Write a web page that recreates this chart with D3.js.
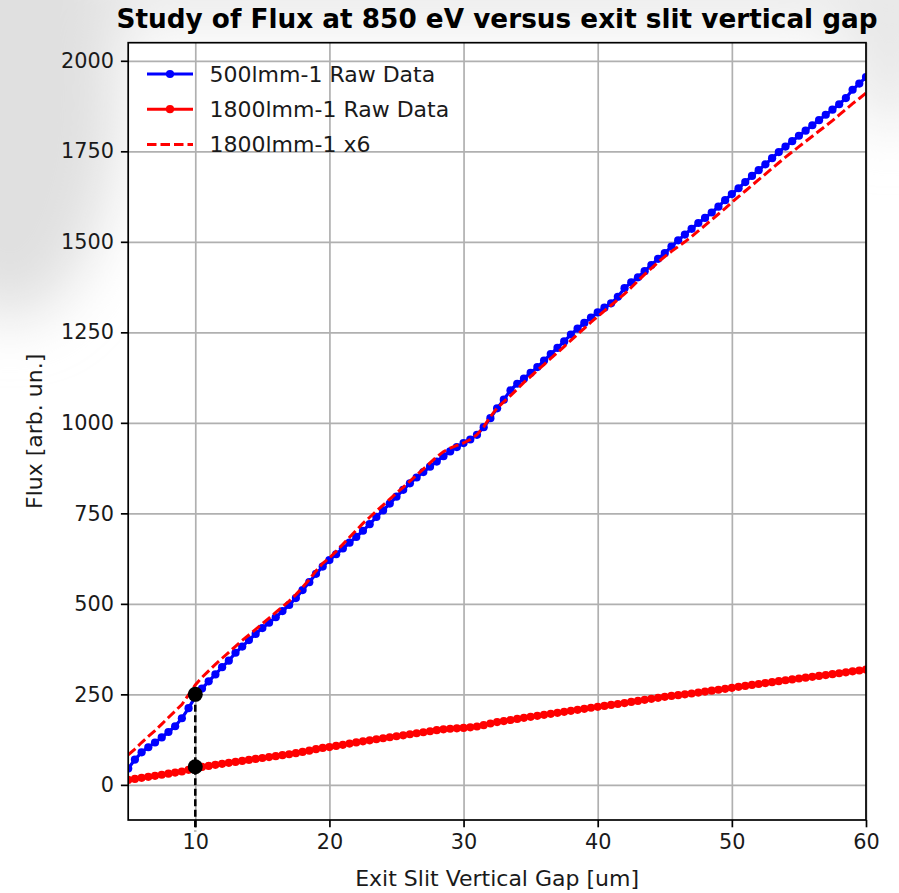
<!DOCTYPE html>
<html>
<head>
<meta charset="utf-8">
<script src="https://cdn.jsdelivr.net/npm/d3@7"></script>
<style>
  body { margin: 0; background: #ffffff; }
  svg text { font-family: "DejaVu Sans", sans-serif; fill: #1a1a1a; }
</style>
</head>
<body>
<div id="CHART"></div>
<script>
// exit slit vertical gap [um], 0.5 um steps
const gap = d3.range(5, 60.001, 0.5);

// 500lmm-1 raw flux
const flux500 = [
  45, 70, 90, 104, 117, 131, 146, 162, 184, 212,
  243, 266, 286, 305, 325, 343, 365, 382, 400, 417,
  433, 448, 463, 480, 497, 516, 538, 560, 583, 603,
  621, 637, 653, 669, 685, 702, 720, 740, 758, 777,
  796, 815, 833, 849, 864, 879, 893, 908, 921, 933,
  944, 954, 967, 988, 1013, 1040, 1064, 1090, 1108, 1122,
  1138, 1154, 1172, 1190, 1207, 1225, 1244, 1260, 1276, 1291,
  1305, 1318, 1330, 1348, 1372, 1388, 1402, 1419, 1436, 1453,
  1469, 1487, 1504, 1520, 1536, 1552, 1566, 1581, 1597, 1615,
  1632, 1648, 1665, 1682, 1698, 1714, 1731, 1748, 1763, 1778,
  1793, 1807, 1822, 1836, 1851, 1865, 1880, 1897, 1920, 1937,
  1955
];

// 1800lmm-1 raw flux
const flux1800 = [
  13.8, 16.5, 19.5, 22.3, 25.0, 28.0, 31.0, 34.0, 37.0, 41.5,
  46.0, 49.5, 52.5, 55.5, 58.3, 61.0, 63.8, 66.5, 69.0, 71.6,
  74.2, 76.8, 79.4, 82.0, 84.6, 87.6, 91.0, 94.5, 98.5, 102.0,
  104.5, 107.5, 110.7, 114.0, 117.2, 120.4, 123.2, 126.0, 128.8, 131.5,
  134.3, 137.0, 139.8, 142.6, 145.4, 148.2, 151.0, 153.4, 155.0, 156.3,
  157.4, 159.0, 161.2, 164.8, 169.5, 173.5, 176.3, 179.2, 182.2, 185.3,
  188.0, 190.8, 193.5, 196.3, 199.0, 201.8, 204.6, 207.4, 210.2, 213.0,
  215.6, 218.2, 220.8, 223.4, 226.0, 229.0, 232.0, 235.0, 237.8, 240.6,
  243.2, 245.6, 247.8, 250.0, 252.4, 255.0, 257.6, 260.2, 262.8, 265.4,
  268.2, 270.8, 273.4, 276.0, 278.6, 281.2, 283.8, 286.4, 289.0, 291.4,
  293.8, 296.2, 298.6, 301.0, 303.4, 305.8, 308.4, 311.0, 313.6, 316.0,
  318.5
];
const scaleFactor = 6;

// marked points at 10 um and the guide line under them
const markX = [10, 10];
const markY = [250, 50];
const guideY = [250, -128];

const xTicks = [10, 20, 30, 40, 50, 60];
const yTicks = [0, 250, 500, 750, 1000, 1250, 1500, 1750, 2000];
const legendNames = ["500lmm-1 Raw Data", "1800lmm-1 Raw Data", "1800lmm-1 x6"];

const W = 899, H = 893;
const plot = {x0: 128.2, x1: 866, y0: 42.7, y1: 820};
const labelFz = "22px";

const svg = d3.select("#CHART").append("svg")
  .attr("width", W).attr("height", H);

const defs = svg.append("defs");
const blur = defs.append("filter").attr("id", "soft")
  .attr("x", "-50%").attr("y", "-50%").attr("width", "200%").attr("height", "200%");
blur.append("feGaussianBlur").attr("stdDeviation", 30);
defs.append("clipPath").attr("id", "plotclip").append("rect")
  .attr("x", plot.x0).attr("y", plot.y0)
  .attr("width", plot.x1 - plot.x0).attr("height", plot.y1 - plot.y0);

// faded background of the screenshot
svg.append("rect").attr("width", W).attr("height", H).attr("fill", "#ffffff");
let bg = svg.append("g").attr("filter", "url(#soft)");
bg.append("rect").attr("x", -60).attr("y", -60).attr("width", 1020).attr("height", 90).attr("fill", "#ececec");
bg.append("ellipse").attr("cx", 10).attr("cy", 90).attr("rx", 110).attr("ry", 230).attr("fill", "#e0e0e0");
bg.append("ellipse").attr("cx", 890).attr("cy", 40).attr("rx", 40).attr("ry", 90).attr("fill", "#e6e6e6");
svg.append("rect")
  .attr("x", plot.x0).attr("y", plot.y0)
  .attr("width", plot.x1 - plot.x0).attr("height", plot.y1 - plot.y0)
  .attr("fill", "#ffffff");

const x = d3.scaleLinear().domain([5, 60]).range([plot.x0, plot.x1]);
const y = d3.scaleLinear().domain([-97, 2050]).range([plot.y1, plot.y0]);

// grid
svg.append("g")
  .attr("transform", `translate(0,${plot.y1})`)
  .call(d3.axisBottom(x).tickValues(xTicks).tickSize(-(plot.y1 - plot.y0)).tickFormat(""))
  .call(g => g.select(".domain").remove())
  .selectAll("line").attr("stroke", "#b0b0b0").attr("stroke-width", 1.7);
svg.append("g")
  .attr("transform", `translate(${plot.x0},0)`)
  .call(d3.axisLeft(y).tickValues(yTicks).tickSize(-(plot.x1 - plot.x0)).tickFormat(""))
  .call(g => g.select(".domain").remove())
  .selectAll("line").attr("stroke", "#b0b0b0").attr("stroke-width", 1.7);

// series
const pts500 = gap.map((g, i) => [g, flux500[i]]);
const pts1800 = gap.map((g, i) => [g, flux1800[i]]);
const ptsScaled = gap.map((g, i) => [g, flux1800[i] * scaleFactor]);
const line = d3.line().x(d => x(d[0])).y(d => y(d[1]));

const data_g = svg.append("g").attr("clip-path", "url(#plotclip)");

function drawDotted(pts, color) {
  data_g.append("path").datum(pts)
    .attr("d", line).attr("fill", "none")
    .attr("stroke", color).attr("stroke-width", 3.2).attr("stroke-linejoin", "round");
  data_g.append("g").selectAll("circle").data(pts).join("circle")
    .attr("cx", d => x(d[0])).attr("cy", d => y(d[1]))
    .attr("r", 4.1).attr("fill", color);
}
drawDotted(pts500, "#0000ff");
drawDotted(pts1800, "#ff0000");

data_g.append("path").datum(ptsScaled)
  .attr("d", line).attr("fill", "none")
  .attr("stroke", "#ff0000").attr("stroke-width", 3)
  .attr("stroke-dasharray", "9.5,4");

// guide line + marks
svg.append("line")
  .attr("x1", x(markX[0])).attr("x2", x(markX[0]))
  .attr("y1", y(guideY[0])).attr("y2", y(guideY[1]))
  .attr("stroke", "#000").attr("stroke-width", 2.5).attr("stroke-dasharray", "7,3.5");
svg.append("g").attr("clip-path", "url(#plotclip)")
  .selectAll("circle").data(markX).join("circle")
  .attr("cx", d => x(d)).attr("cy", (d, i) => y(markY[i]))
  .attr("r", 7.5).attr("fill", "#000");

// axes
let xa = svg.append("g")
  .attr("transform", `translate(0,${plot.y1})`)
  .call(d3.axisBottom(x).tickValues(xTicks).tickSize(7.3).tickPadding(7).tickFormat(d3.format("d")));
let ya = svg.append("g")
  .attr("transform", `translate(${plot.x0},0)`)
  .call(d3.axisLeft(y).tickValues(yTicks).tickSize(7.3).tickPadding(7).tickFormat(d3.format("d")));
[xa, ya].forEach(a => {
  a.select(".domain").remove();
  a.selectAll("line").attr("stroke", "#000").attr("stroke-width", 1.7);
  a.selectAll("text").style("font-family", "DejaVu Sans").style("font-size", "20.8px").attr("fill", "#1a1a1a");
});

// frame
svg.append("rect")
  .attr("x", plot.x0).attr("y", plot.y0)
  .attr("width", plot.x1 - plot.x0).attr("height", plot.y1 - plot.y0)
  .attr("fill", "none").attr("stroke", "#000").attr("stroke-width", 1.7);

// titles
svg.append("text")
  .attr("x", (plot.x0 + plot.x1) / 2).attr("y", 28)
  .attr("text-anchor", "middle")
  .style("font-size", "26.3px").style("font-weight", "bold").style("fill", "#000")
  .text("Study of Flux at 850 eV versus exit slit vertical gap");
svg.append("text")
  .attr("x", (plot.x0 + plot.x1) / 2).attr("y", 886)
  .attr("text-anchor", "middle")
  .style("font-size", labelFz)
  .text("Exit Slit Vertical Gap [um]");
svg.append("text")
  .attr("transform", `translate(42,${(plot.y0 + plot.y1) / 2}) rotate(-90)`)
  .attr("text-anchor", "middle")
  .style("font-size", labelFz)
  .text("Flux [arb. un.]");

// legend
const legend = svg.append("g");
legendNames.forEach((name, i) => {
  const ly = 74 + i * 35.2;
  const c = i === 0 ? "#0000ff" : "#ff0000";
  legend.append("line")
    .attr("x1", 147).attr("x2", 193).attr("y1", ly).attr("y2", ly)
    .attr("stroke", c).attr("stroke-width", 3)
    .attr("stroke-dasharray", i === 2 ? "9.5,4" : null);
  if (i < 2) {
    legend.append("circle").attr("cx", 170).attr("cy", ly).attr("r", 4.1).attr("fill", c);
  }
  legend.append("text")
    .attr("x", 209.5).attr("y", ly + 8)
    .style("font-size", labelFz)
    .text(name);
});
</script>
</body>
</html>
